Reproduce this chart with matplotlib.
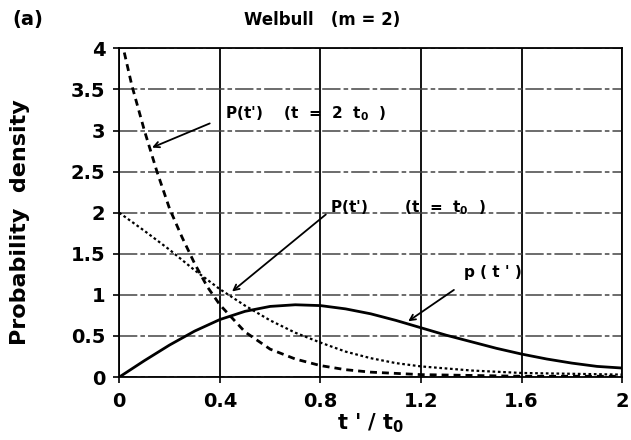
import matplotlib
matplotlib.use("Agg")
import matplotlib.pyplot as plt

# values
t_solid = [0, 0.1, 0.2, 0.3, 0.4, 0.5, 0.6, 0.7, 0.8, 0.9, 1.0,
           1.1, 1.2, 1.3, 1.4, 1.5, 1.6, 1.7, 1.8, 1.9, 2.0]
p_solid = [0, 0.2, 0.39, 0.56, 0.7, 0.8, 0.86, 0.88, 0.87, 0.83, 0.77,
           0.69, 0.6, 0.51, 0.43, 0.35, 0.28, 0.22, 0.17, 0.13, 0.11]

t_t0 = [0, 0.1, 0.2, 0.3, 0.4, 0.5, 0.6, 0.7, 0.8, 0.9, 1.0,
        1.1, 1.2, 1.4, 1.6, 1.8, 2.0]
p_t0 = [2.0, 1.78, 1.55, 1.3, 1.07, 0.87, 0.69, 0.54, 0.42, 0.31, 0.23,
        0.17, 0.13, 0.08, 0.05, 0.04, 0.03]

t_2t0 = [0.02, 0.05, 0.1, 0.15, 0.2, 0.25, 0.3, 0.35, 0.4, 0.5, 0.6,
         0.7, 0.8, 0.9, 1.0, 1.2, 1.4, 1.6, 1.8, 2.0]
p_2t0 = [3.95, 3.55, 3.0, 2.5, 2.05, 1.7, 1.38, 1.1, 0.88, 0.55, 0.34,
         0.22, 0.14, 0.09, 0.06, 0.03, 0.02, 0.01, 0.01, 0.01]

x_ticks = [0, 0.4, 0.8, 1.2, 1.6, 2]
x_labels = ["0", "0.4", "0.8", "1.2", "1.6", "2"]
y_ticks = [0, 0.5, 1, 1.5, 2, 2.5, 3, 3.5, 4]
y_labels = ["0", "0.5", "1", "1.5", "2", "2.5", "3", "3.5", "4"]

plt.rcParams['font.family'] = ['DejaVu Sans']
plt.rcParams['font.weight'] = 'bold'
plt.rcParams['mathtext.default'] = 'bf'

fig = plt.figure(figsize=(6.31, 4.40), dpi=100)
ax = fig.add_axes([0.189, 0.143, 0.797, 0.747])

# grid: solid verticals, broken horizontals like the scan
for xv in x_ticks:
    ax.axvline(xv, color='black', lw=1.3, zorder=1)
for yv in y_ticks:
    ax.axhline(yv, color='#444444', lw=1.1, ls=(0, (12, 2, 3, 2)), zorder=1)

ax.plot(t_solid, p_solid, color='black', lw=2.0, zorder=3)
ax.plot(t_t0, p_t0, color='black', lw=1.6, ls=(0, (1.2, 1.2)), zorder=3)
ax.plot(t_2t0, p_2t0, color='black', lw=2.0, ls=(0, (2.5, 1.8)), zorder=3)

ax.set_xlim(0, 2)
ax.set_ylim(0, 4)
ax.set_xticks(x_ticks)
ax.set_xticklabels(x_labels)
ax.set_yticks(y_ticks)
ax.set_yticklabels(y_labels)
ax.tick_params(labelsize=14, direction='out', length=4, width=1.2)
ax.tick_params(axis='y', pad=6)
ax.tick_params(axis='x', pad=7)
for s in ax.spines.values():
    s.set_linewidth(1.3)

ax.set_xlabel("t ' / t$_0$", fontsize=15, fontweight='bold', labelpad=0)
ax.set_ylabel("Probability  density", fontsize=16, fontweight='bold')
ax.yaxis.set_label_coords(-0.178, 0.47)

ann = dict(fontsize=11, fontweight='bold', color='black')
arrow = dict(arrowstyle='->', color='black', lw=1.3)
ax.text(0.42, 3.15, "P(t')    (t  =  2  t$_0$  )", **ann)
ax.annotate("", xy=(0.12, 2.78), xytext=(0.37, 3.1), arrowprops=arrow)
ax.text(0.84, 2.0, "P(t')       (t  =  t$_0$  )", **ann)
ax.annotate("", xy=(0.44, 1.02), xytext=(0.83, 2.0), arrowprops=arrow)
ax.text(1.37, 1.22, "p ( t ' )", **ann)
ax.annotate("", xy=(1.14, 0.66), xytext=(1.34, 1.08), arrowprops=arrow)

fig.text(0.51, 0.955, "Welbull   (m = 2)", fontsize=12, fontweight='bold',
         ha='center', va='center')
fig.text(0.02, 0.955, "(a)", fontsize=14, fontweight='bold', ha='left', va='center')

fig.savefig("out.png", dpi=100)
